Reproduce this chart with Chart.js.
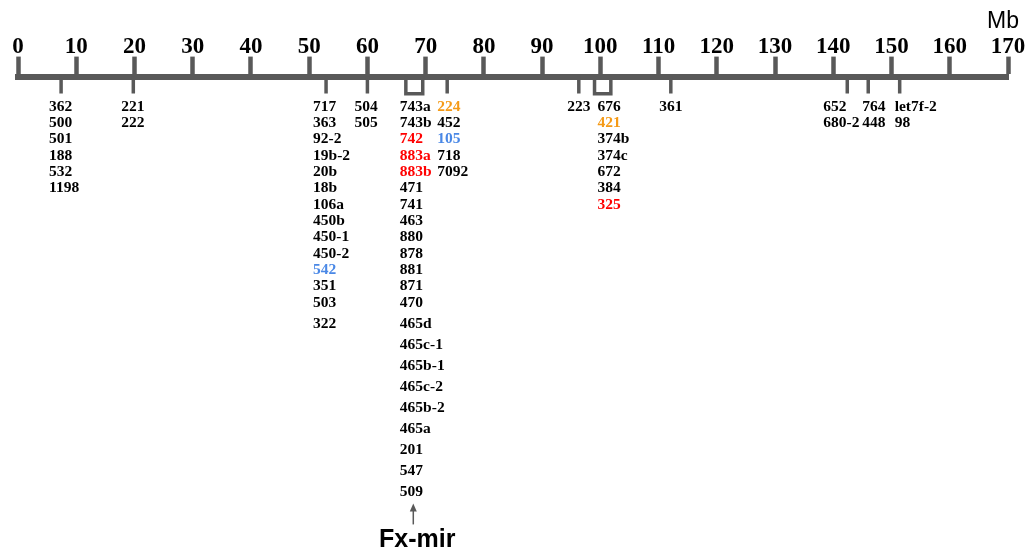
<!DOCTYPE html>
<html>
<head>
<meta charset="utf-8">
<script src="https://cdn.jsdelivr.net/npm/chart.js@4"></script>
<style>
  body { margin: 0; background: #fff; }
  canvas { display: block; }
</style>
</head>
<body>
<canvas id="mapChart" width="1029" height="550"></canvas>
<script>
// Chromosome scale (Mb)
const axisMin = 0;
const axisMax = 170;
const axisStep = 10;

// miRNA loci positions along the chromosome (Mb)
const markerPos = [7.4, 19.8, 52.9, 60, 73.7, 96.3, 112.1, 142.4, 146, 151.4];
// bracketed clusters [start, end] (Mb)
const boxStart = [66.6, 99.0];
const boxEnd = [69.5, 101.8];

// label stacks under each locus
const markerNames = [
    ["362", "500", "501", "188", "532", "1198"],
    ["221", "222"],
    ["717", "363", "92-2", "19b-2", "20b", "18b", "106a", "450b", "450-1", "450-2", "542", "351", "503", "322"],
    ["504", "505"],
    ["224", "452", "105", "718", "7092"],
    ["223"],
    ["361"],
    ["652", "680-2"],
    ["764", "448"],
    ["let7f-2", "98"]
];
const boxNames = [
    ["743a", "743b", "742", "883a", "883b", "471", "741", "463", "880", "878", "881", "871", "470",
     "465d", "465c-1", "465b-1", "465c-2", "465b-2", "465a", "201", "547", "509"],
    ["676", "421", "374b", "374c", "672", "384", "325"]
];

// highlighted miRNAs
const redNames = ["742", "883a", "883b", "325"];
const orangeNames = ["224", "421"];
const blueNames = ["105", "542"];

const clusterLabel = "Fx-mir";
const unitLabel = "Mb";

// label layout (pixels relative to anchor)
const markerDx = [-12, -12, -13, -13, -10, 0, 0, -24, -6, -5];
const markerAlign = ["left", "left", "left", "left", "left", "center", "center", "left", "left", "left"];
const boxDx = [-6, 3];

const axisColor = "#595959";
const labelFont = "bold 15.5px 'Liberation Serif'";

function rowValue(i) {
    // rows below the axis, row units; the long cluster spreads out after row 12
    if (i <= 12) return 1.85 + i;
    return 1.85 + 12 + (i - 12) * 1.29;
}

function nameColor(n) {
    if (redNames.includes(n)) return "#ff0000";
    if (orangeNames.includes(n)) return "#f59a16";
    if (blueNames.includes(n)) return "#4a88e6";
    return "#000000";
}

const labelPlugin = {
    id: "labelPlugin",
    afterDatasetsDraw(chart) {
        const ctx = chart.ctx;
        const xs = chart.scales.x;
        const ys = chart.scales.y;
        ctx.save();

        // brackets for clustered loci
        ctx.strokeStyle = axisColor;
        ctx.lineWidth = 3.5;
        for (let b = 0; b < boxStart.length; b++) {
            const x1 = xs.getPixelForValue(boxStart[b]);
            const x2 = xs.getPixelForValue(boxEnd[b]);
            const y0 = ys.getPixelForValue(0);
            const y1 = ys.getPixelForValue(1.05);
            ctx.beginPath();
            ctx.moveTo(x1, y0);
            ctx.lineTo(x1, y1);
            ctx.lineTo(x2, y1);
            ctx.lineTo(x2, y0);
            ctx.stroke();
        }

        // name stacks
        ctx.font = labelFont;
        ctx.textBaseline = "middle";
        markerNames.forEach((names, m) => {
            const x = xs.getPixelForValue(markerPos[m]) + markerDx[m];
            ctx.textAlign = markerAlign[m];
            names.forEach((n, i) => {
                ctx.fillStyle = nameColor(n);
                ctx.fillText(n, x, ys.getPixelForValue(rowValue(i)));
            });
        });
        boxNames.forEach((names, b) => {
            const x = xs.getPixelForValue(boxStart[b]) + boxDx[b];
            ctx.textAlign = "left";
            names.forEach((n, i) => {
                ctx.fillStyle = nameColor(n);
                ctx.fillText(n, x, ys.getPixelForValue(rowValue(i)));
            });
        });

        // arrow + Fx-mir label under the big cluster
        const last = boxNames[0].length - 1;
        const ax = xs.getPixelForValue((boxStart[0] + boxEnd[0]) / 2) - 1;
        const tipY = ys.getPixelForValue(rowValue(last)) + 11;
        ctx.strokeStyle = axisColor;
        ctx.fillStyle = axisColor;
        ctx.lineWidth = 1.5;
        ctx.beginPath();
        ctx.moveTo(ax, tipY + 6);
        ctx.lineTo(ax, tipY + 21);
        ctx.stroke();
        ctx.beginPath();
        ctx.moveTo(ax, tipY);
        ctx.lineTo(ax - 3.5, tipY + 8);
        ctx.lineTo(ax + 3.5, tipY + 8);
        ctx.closePath();
        ctx.fill();

        ctx.fillStyle = "#000";
        ctx.font = "bold 25px 'Liberation Sans'";
        ctx.textAlign = "center";
        ctx.fillText(clusterLabel, ax + 4, tipY + 37);

        // unit
        ctx.font = "23px 'Liberation Sans'";
        ctx.textAlign = "left";
        ctx.fillText(unitLabel, 987, 22);
        ctx.restore();
    }
};

new Chart(document.getElementById("mapChart").getContext("2d"), {
    type: "scatter",
    data: {
        datasets: [{
            data: markerPos.map(p => ({ x: p, y: 0.52 })),
            pointStyle: "line",
            rotation: 90,
            radius: 8.5,
            hoverRadius: 8.5,
            borderWidth: 3.5,
            borderColor: axisColor,
            backgroundColor: axisColor
        }]
    },
    options: {
        responsive: false,
        animation: false,
        events: [],
        layout: { padding: { top: 37, left: 18, right: 21, bottom: 0 } },
        plugins: {
            legend: { display: false },
            tooltip: { enabled: false }
        },
        scales: {
            x: {
                type: "linear",
                position: "top",
                min: axisMin,
                max: axisMax,
                ticks: {
                    stepSize: axisStep,
                    color: "#000",
                    padding: -4,
                    font: { family: "'Liberation Serif'", size: 23, weight: "bold" }
                },
                grid: {
                    drawOnChartArea: false,
                    drawTicks: true,
                    tickLength: 20,
                    tickWidth: 4.5,
                    tickColor: axisColor,
                    color: axisColor
                },
                border: { display: true, width: 6, color: axisColor }
            },
            y: {
                display: false,
                reverse: true,
                min: 0,
                max: 28.25
            }
        }
    },
    plugins: [labelPlugin]
});
</script>
</body>
</html>
